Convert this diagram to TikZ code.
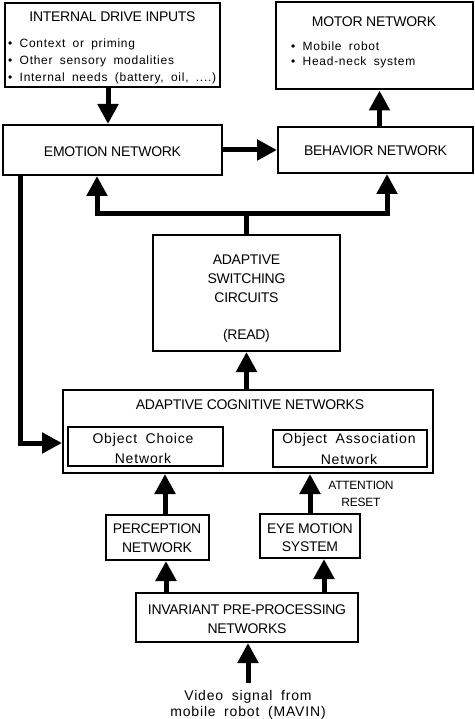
\documentclass[tikz,border=0pt]{standalone}
\usepackage{fontspec}
\setmainfont{Liberation Sans}
\newfontfamily\capsfont[LetterSpace=-2]{Liberation Sans}
\newfontfamily\lowfont[LetterSpace=6,WordSpace=1.8]{Liberation Sans}
\usetikzlibrary{arrows.meta}
\begin{document}
\begin{tikzpicture}[x=1pt,y=-1pt,
  box/.style={draw, line width=2pt, inner sep=0pt},
  sbox/.style={draw, line width=1.5pt, inner sep=0pt},
  ttl/.style={font=\capsfont\fontsize{14}{16}\selectfont, inner sep=0pt},
  low/.style={font=\lowfont\fontsize{12}{14}\selectfont, inner sep=0pt, anchor=west},
  mid/.style={font=\lowfont\fontsize{14}{16}\selectfont, inner sep=0pt},
  sml/.style={font=\capsfont\fontsize{12}{14}\selectfont, inner sep=0pt},
  arr/.style={line width=5pt, -{Triangle[length=20pt,width=20pt]}},
  thk/.style={line width=5pt}]
\useasboundingbox (0,0) rectangle (474,719);
% boxes
\node[box, line width=2.5pt, minimum width=215pt, minimum height=84pt] (drive) at (112.5,45) {};
\node[box, minimum width=197pt, minimum height=87pt] (motor) at (374,46) {};
\node[box, minimum width=219pt, minimum height=50pt] (emotion) at (112.5,150) {};
\node[box, minimum width=195pt, minimum height=46pt] (behavior) at (375.5,150) {};
\node[box, minimum width=187pt, minimum height=116pt] (switch) at (246.5,293) {};
\node[box, minimum width=370pt, minimum height=83pt] (acn) at (248,431.5) {};
\node[sbox, minimum width=155pt, minimum height=39pt] (ochoice) at (145.5,446.5) {};
\node[sbox, minimum width=154pt, minimum height=37pt] (oassoc) at (350,448.5) {};
\node[box, minimum width=103pt, minimum height=45pt] (perc) at (157,537.5) {};
\node[box, minimum width=100pt, minimum height=44pt] (eye) at (310,536) {};
\node[box, minimum width=222pt, minimum height=49pt] (inv) at (247,617.5) {};
% texts
\node[ttl] (t1) at (112.5,17) {INTERNAL DRIVE INPUTS};
\node[low] (b1) at (8,44) {\textbullet\ Context or priming};
\node[low] (b2) at (8,61) {\textbullet\ Other sensory modalities};
\node[low] (b3) at (8,78) {\textbullet\ Internal needs (battery, oil, ....)};
\node[ttl] (t2) at (374,22) {MOTOR NETWORK};
\node[low] (b4) at (291,46) {\textbullet\ Mobile robot};
\node[low] (b5) at (291,62) {\textbullet\ Head-neck system};
\node[ttl] (t3) at (112.5,152) {EMOTION NETWORK};
\node[ttl] (t4) at (375.5,151) {BEHAVIOR NETWORK};
\node[ttl] (t5) at (246.5,260) {ADAPTIVE};
\node[ttl] (t6) at (246.5,279) {SWITCHING};
\node[ttl] (t7) at (246.5,298) {CIRCUITS};
\node[ttl] (t8) at (246.5,336) {(READ)};
\node[ttl] (t9) at (250,405) {ADAPTIVE COGNITIVE NETWORKS};
\node[mid] (t10) at (143,440) {Object Choice};
\node[mid] (t11) at (143,458) {Network};
\node[mid] (t12) at (349,440) {Object Association};
\node[mid] (t13) at (349,459) {Network};
\node[sml] (att) at (361,485) {ATTENTION};
\node[sml] (rst) at (361,502) {RESET};
\node[ttl] (t14) at (157,529) {PERCEPTION};
\node[ttl] (t15) at (157,548) {NETWORK};
\node[ttl] (t16) at (310,529) {EYE MOTION};
\node[ttl] (t17) at (310,547) {SYSTEM};
\node[ttl] (t18) at (247,610) {INVARIANT PRE-PROCESSING};
\node[ttl] (t19) at (247,629) {NETWORKS};
\node[mid] (v1) at (248,697) {Video signal from};
\node[mid] (v2) at (248,713) {mobile robot (MAVIN)};
% connectors
\draw[arr] ([xshift=-4.5pt]drive.south) -- ([xshift=-4.5pt]drive.south |- emotion.north);
\draw[arr] (emotion.east) -- (emotion.east -| behavior.west);
\draw[arr] ([xshift=4pt]behavior.north) -- ([xshift=4pt]behavior.north |- motor.south);
\coordinate (junc) at (246.5,214);
\draw[thk] (switch.north) -- (junc);
\draw[arr] (junc) -| ([xshift=-15.5pt]emotion.south);
\draw[arr] (junc) -| ([xshift=11.5pt]behavior.south);
\draw[arr] (acn.north -| switch.south) -- (switch.south);
\draw[arr] ([xshift=18pt]emotion.south west) |- ([yshift=-11.5pt]acn.west);
\draw[arr] ([xshift=8pt]perc.north) -- ([xshift=8pt]perc.north |- acn.south);
\draw[arr] (eye.north) -- (eye.north |- acn.south);
\draw[arr] ([xshift=9pt]perc.south |- inv.north) -- ([xshift=9pt]perc.south);
\draw[arr] ([xshift=14pt]eye.south |- inv.north) -- ([xshift=14pt]eye.south);
\coordinate (vs) at (248,683);
\draw[arr] (vs) -- (vs |- inv.south);
\end{tikzpicture}
\end{document}
